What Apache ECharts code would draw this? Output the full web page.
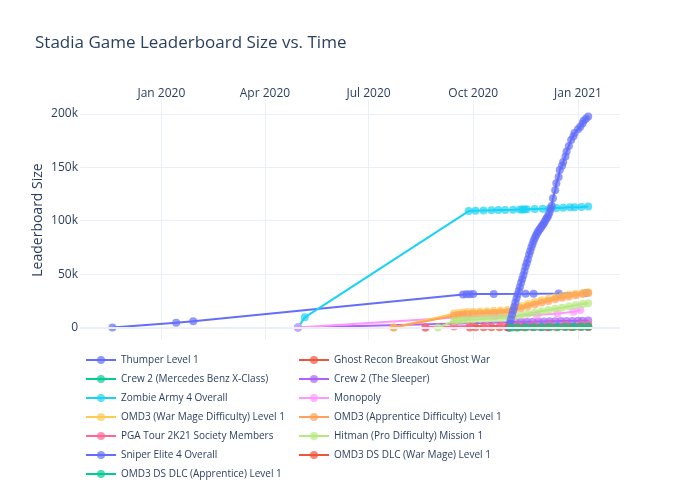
<!DOCTYPE html>
<html><head><meta charset="utf-8">
<script src="https://cdn.jsdelivr.net/npm/echarts@6/dist/echarts.min.js"></script>
<style>html,body{margin:0;padding:0;background:#fff}#c{width:700px;height:500px}</style>
</head><body><div id="c"></div>
<script>
const titleText = 'Stadia Game Leaderboard Size vs. Time';
const yAxisTitle = 'Leaderboard Size';

const seriesNames = [
  'Thumper Level 1', 'Ghost Recon Breakout Ghost War',
  'Crew 2 (Mercedes Benz X-Class)', 'Crew 2 (The Sleeper)',
  'Zombie Army 4 Overall', 'Monopoly',
  'OMD3 (War Mage Difficulty) Level 1', 'OMD3 (Apprentice Difficulty) Level 1',
  'PGA Tour 2K21 Society Members', 'Hitman (Pro Difficulty) Mission 1',
  'Sniper Elite 4 Overall', 'OMD3 DS DLC (War Mage) Level 1',
  'OMD3 DS DLC (Apprentice) Level 1'
];
const seriesColors = ['#636efa','#EF553B','#00cc96','#ab63fa','#19d3f3','#FF97FF','#FECB52','#FFA15A','#FF6692','#B6E880','#636efa','#EF553B','#00cc96'];

const thumper = [['2019-11-19',0],['2020-01-14',4500],['2020-01-29',5800],['2020-09-22',31000],['2020-09-25',31100],['2020-09-28',31200],['2020-10-01',31300],['2020-10-19',31400],['2020-11-16',31600],['2020-11-23',31700],['2020-12-15',31900],['2021-01-08',32400]];
const ghostRecon = [['2020-08-20',0],['2020-09-28',100],['2020-10-03',150],['2020-10-10',200],['2020-10-17',250],['2020-10-24',300],['2020-10-31',350],['2020-11-14',400],['2020-12-05',450],['2020-12-26',500],['2021-01-10',550]];
const crew2Mercedes = [['2020-11-02',100],['2020-11-05',200],['2020-11-10',300],['2020-11-17',400],['2020-11-24',500],['2020-12-01',550],['2020-12-08',600],['2020-12-15',650],['2020-12-22',700],['2020-12-29',750],['2021-01-05',800],['2021-01-10',850]];
const crew2Sleeper = [['2020-04-30',0],['2020-11-02',5000],['2020-11-07',5200],['2020-11-12',5300],['2020-11-17',5400],['2020-11-22',5500],['2020-11-27',5600],['2020-12-02',5700],['2020-12-07',5800],['2020-12-12',5900],['2020-12-17',6000],['2020-12-22',6100],['2020-12-27',6200],['2021-01-01',6300],['2021-01-05',6400],['2021-01-10',6500]];
const zombieArmy = [['2020-04-30',0],['2020-05-06',9500],['2020-09-27',109000],['2020-10-03',109300],['2020-10-10',109500],['2020-10-17',109700],['2020-10-23',109900],['2020-10-29',110000],['2020-11-05',110200],['2020-11-11',110400],['2020-11-13',110500],['2020-11-15',110500],['2020-11-17',110600],['2020-11-24',110900],['2020-12-01',111200],['2020-12-07',111500],['2020-12-13',111900],['2020-12-19',112200],['2020-12-25',112500],['2020-12-29',112700],['2021-01-04',112900],['2021-01-10',113200]];
const monopoly = [['2020-04-30',0],['2020-09-26',10000],['2020-10-20',10600],['2020-11-05',11000],['2020-11-26',11700],['2020-12-14',13000],['2020-12-28',14800],['2021-01-03',16400]];
const omdWarMage = [['2020-07-23',0],['2020-09-14',13000],['2020-09-18',13600],['2020-09-22',14000],['2020-09-26',14400],['2020-10-01',14700],['2020-10-07',15000],['2020-10-13',15300],['2020-10-19',15600],['2020-10-25',15900],['2020-10-31',16300],['2020-11-06',18300],['2020-11-12',20200],['2020-11-18',22000],['2020-11-24',23800],['2020-11-30',25500],['2020-12-06',27000],['2020-12-12',28400],['2020-12-18',29600],['2020-12-24',30700],['2020-12-30',31600],['2021-01-05',32400],['2021-01-10',33000]];
const omdApprentice = [['2020-07-23',0],['2020-09-14',11000],['2020-09-18',11700],['2020-09-22',12200],['2020-09-26',12600],['2020-10-01',13000],['2020-10-07',13300],['2020-10-13',13600],['2020-10-19',13900],['2020-10-25',14200],['2020-10-31',14600],['2020-11-06',16300],['2020-11-12',18000],['2020-11-18',19800],['2020-11-24',21600],['2020-11-30',23300],['2020-12-06',24900],['2020-12-12',26400],['2020-12-18',27800],['2020-12-24',29100],['2020-12-30',30300],['2021-01-05',31400],['2021-01-10',32200]];
const pgaTour = [['2020-08-20',0],['2020-09-14',1000],['2020-09-28',1300],['2020-10-12',1500],['2020-10-26',1700],['2020-11-09',1900],['2020-11-23',2100],['2020-12-07',2300],['2020-12-21',2500],['2021-01-04',2700],['2021-01-10',2800]];
const hitman = [['2020-08-31',0],['2020-09-14',6000],['2020-09-18',6600],['2020-09-22',7000],['2020-09-26',7300],['2020-10-01',7600],['2020-10-07',7900],['2020-10-13',8200],['2020-10-19',8500],['2020-10-25',8800],['2020-10-31',9100],['2020-11-06',10300],['2020-11-12',11600],['2020-11-18',12900],['2020-11-24',14100],['2020-11-30',15300],['2020-12-06',16400],['2020-12-12',17500],['2020-12-18',18600],['2020-12-24',19700],['2020-12-30',20800],['2021-01-05',21900],['2021-01-10',22700]];
const sniperElite = [['2020-11-01',0],['2020-11-02',3500],['2020-11-03',8000],['2020-11-04',12000],['2020-11-05',16000],['2020-11-06',19500],['2020-11-07',23500],['2020-11-08',27500],['2020-11-09',31000],['2020-11-10',34500],['2020-11-11',38000],['2020-11-12',42000],['2020-11-13',45500],['2020-11-14',49000],['2020-11-15',53000],['2020-11-16',57000],['2020-11-17',60500],['2020-11-18',64000],['2020-11-19',68000],['2020-11-20',71500],['2020-11-21',75000],['2020-11-22',78000],['2020-11-23',81000],['2020-11-24',83500],['2020-11-25',86000],['2020-11-26',88000],['2020-11-27',90000],['2020-11-28',91500],['2020-11-29',93000],['2020-11-30',94500],['2020-12-01',96000],['2020-12-02',97600],['2020-12-03',99500],['2020-12-04',101500],['2020-12-05',103000],['2020-12-06',105000],['2020-12-07',108000],['2020-12-08',111000],['2020-12-09',114000],['2020-12-10',121000],['2020-12-12',128500],['2020-12-13',135000],['2020-12-15',141000],['2020-12-16',147500],['2020-12-18',151500],['2020-12-19',155000],['2020-12-21',160000],['2020-12-22',164700],['2020-12-24',170000],['2020-12-26',175600],['2020-12-28',179000],['2020-12-29',182000],['2021-01-01',185500],['2021-01-03',188000],['2021-01-05',191000],['2021-01-06',193500],['2021-01-08',195500],['2021-01-10',197500]];
const omdDsWarMage = [['2020-11-01',0],['2020-11-08',100],['2020-11-15',150],['2020-11-22',200],['2020-11-29',250],['2020-12-06',300],['2020-12-13',350],['2020-12-20',380],['2020-12-27',400],['2021-01-03',420],['2021-01-10',450]];
const omdDsApprentice = [['2020-11-03',0],['2020-11-09',200],['2020-11-16',300],['2020-11-23',400],['2020-11-30',500],['2020-12-07',600],['2020-12-14',700],['2020-12-21',800],['2020-12-28',850],['2021-01-04',900],['2021-01-10',950]];

const allSeriesData = [thumper, ghostRecon, crew2Mercedes, crew2Sleeper, zombieArmy, monopoly, omdWarMage, omdApprentice, pgaTour, hitman, sniperElite, omdDsWarMage, omdDsApprentice];

const xTickDates = ['2020-01-01','2020-04-01','2020-07-01','2020-10-01','2021-01-01'];
const monthNames = ['Jan','Feb','Mar','Apr','May','Jun','Jul','Aug','Sep','Oct','Nov','Dec'];
const yTickValues = [0, 50000, 100000, 150000, 200000];
const yTickLabels = ['0','50k','100k','150k','200k'];

function ts(s) { const p = s.split('-'); return Date.UTC(+p[0], +p[1] - 1, +p[2]); }
const xMin = Date.UTC(2019, 9, 21, 12);
const xMax = Date.UTC(2021, 1, 6, 22);
const font = '"Open Sans", verdana, arial, sans-serif';
const ink = '#2a3f5f';

const series = seriesNames.map((name, i) => {
  const s = {
    name: name, type: 'line', symbol: 'circle', symbolSize: 8, showAllSymbol: true,
    data: allSeriesData[i].map(d => [ts(d[0]), d[1]]),
    lineStyle: { width: 2, color: seriesColors[i], opacity: 1 },
    itemStyle: { color: seriesColors[i], opacity: 0.7 },
    emphasis: { disabled: true }
  };
  if (i === 0) {
    s.markLine = { silent: true, symbol: 'none', label: { show: false },
      lineStyle: { color: '#EBF0F8', width: 2, type: 'solid' }, data: [{ yAxis: 0 }] };
  }
  return s;
});

const col1 = seriesNames.filter((n, i) => i % 2 === 0);
const col2 = seriesNames.filter((n, i) => i % 2 === 1);
const legendBase = { orient: 'vertical', top: 353, padding: 0, itemWidth: 30, itemHeight: 10, itemGap: 5,
  textStyle: { fontFamily: font, fontSize: 10, color: ink, lineHeight: 14 }, selectedMode: false };

const chart = echarts.init(document.getElementById('c'), null, { renderer: 'canvas' });
chart.setOption({
  animation: false,
  backgroundColor: '#fff',
  title: { text: titleText, left: 35, top: 35, padding: 0,
    textStyle: { fontFamily: font, fontSize: 17, fontWeight: 'normal', color: ink } },
  legend: [
    Object.assign({}, legendBase, { left: 85, data: col1 }),
    Object.assign({}, legendBase, { left: 298, data: col2 })
  ],
  grid: { left: 80, right: 80, top: 100, height: 240, containLabel: false },
  xAxis: {
    type: 'value', position: 'top', min: xMin, max: xMax,
    axisLine: { show: false },
    axisTick: { show: false, customValues: xTickDates.map(ts) },
    splitLine: { show: true, lineStyle: { color: '#EBF0F8', width: 1 } },
    axisLabel: { customValues: xTickDates.map(ts), margin: 0, fontFamily: font, fontSize: 12, color: ink,
      formatter: v => { const d = new Date(v); return monthNames[d.getUTCMonth()] + ' ' + d.getUTCFullYear(); } }
  },
  yAxis: {
    type: 'value', min: -11700, max: 213000,
    name: yAxisTitle, nameLocation: 'middle', nameGap: 35, nameMoveOverlap: false,
    nameTextStyle: { fontFamily: font, fontSize: 14, color: ink },
    axisLine: { show: false },
    axisTick: { show: false, customValues: yTickValues },
    splitLine: { show: true, lineStyle: { color: '#EBF0F8', width: 1 } },
    axisLabel: { customValues: yTickValues, margin: 2, fontFamily: font, fontSize: 12, color: ink,
      formatter: v => yTickLabels[yTickValues.indexOf(v)] }
  },
  series: series
});
</script></body></html>
